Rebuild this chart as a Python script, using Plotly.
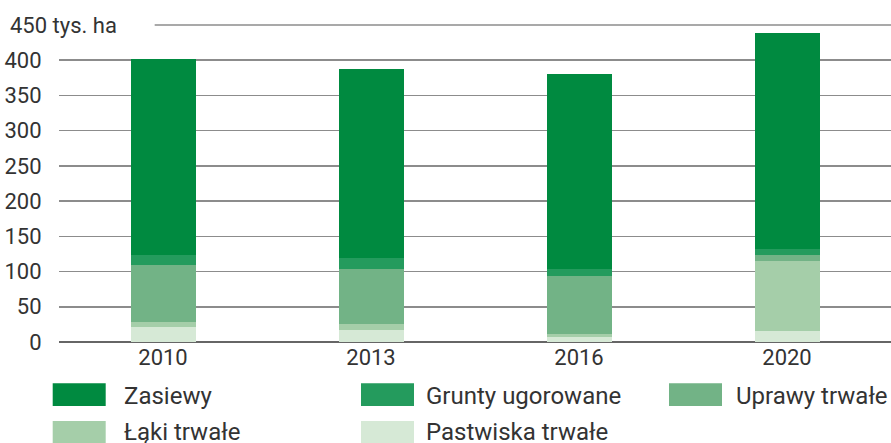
import plotly.graph_objects as go

years = ["2010", "2013", "2016", "2020"]
series_names = ["Pastwiska trwałe", "Łąki trwałe", "Uprawy trwałe", "Grunty ugorowane", "Zasiewy"]
pastwiska = [21.4, 17.6, 7.1, 15.7]
laki = [7.2, 8.1, 4.3, 100.0]
uprawy = [80.4, 78.1, 82.4, 8.1]
grunty = [13.9, 15.7, 10.5, 7.6]
zasiewy = [278.5, 268.5, 275.5, 307.0]
colors = ["#d6e9d6", "#a5cea9", "#72b386", "#249b5d", "#008a40"]
y_ticks = [0, 50, 100, 150, 200, 250, 300, 350, 400]
top_label = "450 tys. ha"
top_value = 450

# legend order (as displayed, row-major)
legend_order = ["Zasiewy", "Grunty ugorowane", "Uprawy trwałe", "Łąki trwałe", "Pastwiska trwałe"]

FONT = "Roboto"
TXT = "#333333"
TICK_SIZE = 22
LEG_SIZE = 24

fig = go.Figure()
for name, vals, col in zip(series_names, [pastwiska, laki, uprawy, grunty, zasiewy], colors):
    fig.add_trace(go.Bar(x=years, y=vals, name=name, marker=dict(color=col, line=dict(width=0)),
                         showlegend=False, hoverinfo="skip"))

fig.update_layout(
    barmode="stack",
    bargap=0.6875,
    width=891, height=443,
    margin=dict(l=59, r=0, t=25, b=101),
    plot_bgcolor="white", paper_bgcolor="white",
    font=dict(family=FONT, size=TICK_SIZE, color=TXT),
    xaxis=dict(type="category", range=[-0.5, 3.5], showgrid=False, ticks="",
               showline=False, zeroline=False, tickfont=dict(size=TICK_SIZE, color=TXT)),
    yaxis=dict(range=[0, top_value], tickvals=y_ticks, showgrid=True, gridcolor="#8c8c8c",
               gridwidth=1.5, zeroline=True, zerolinecolor="#666666", zerolinewidth=1.5,
               ticks="outside", ticklen=12, tickcolor="rgba(0,0,0,0)",
               tickfont=dict(size=TICK_SIZE, color=TXT), showline=False),
)

# top grid line (at the top of the value range) with unit label
fig.add_shape(type="line", xref="paper", yref="paper", x0=0.115, x1=1, y0=1, y1=1,
              line=dict(color="#8c8c8c", width=1.5), layer="below")
fig.add_annotation(xref="paper", yref="y", x=0, y=top_value, text=top_label, showarrow=False,
                   xanchor="left", yanchor="middle", xshift=-51, font=dict(size=TICK_SIZE, color=TXT))

# custom legend
col_x = [(52.7, 121.7), (361, 424), (669, 734)]
row_y = [(383.3, 406), (421, 444)]
plot_l, plot_w = 59, 832
plot_t, plot_h = 25, 317
name_to_color = dict(zip(series_names, colors))
px = lambda v: (v - plot_l) / plot_w
py = lambda v: (plot_t + plot_h - v) / plot_h
for i, name in enumerate(legend_order):
    r, c = divmod(i, 3)
    sx0, tx = col_x[c]
    sx1 = sx0 + 53
    y0p, y1p = row_y[r]
    fig.add_shape(type="rect", xref="paper", yref="paper", x0=px(sx0), x1=px(sx1),
                  y0=py(y1p), y1=py(y0p), fillcolor=name_to_color[name], line=dict(width=0))
    fig.add_annotation(xref="paper", yref="paper", x=px(tx), y=py([395.5, 432][r]),
                       text=name, showarrow=False, xanchor="left", yanchor="middle",
                       font=dict(size=LEG_SIZE, color=TXT))

fig.write_html("out.html", config={"displayModeBar": False, "staticPlot": True},
               post_script="document.body.style.margin='0';document.body.style.overflow='hidden';")
